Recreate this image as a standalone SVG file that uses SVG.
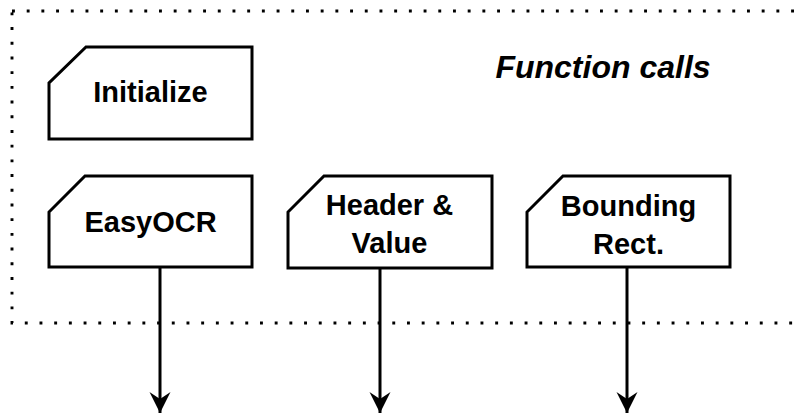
<svg xmlns="http://www.w3.org/2000/svg" width="795" height="414" viewBox="0 0 795 414">
  <defs>
    <style>
      .frame { fill: none; stroke: #000; stroke-width: 2.9; stroke-dasharray: 2.9 11.8; }
      .node { fill: #fff; stroke: #000; stroke-width: 3; stroke-linejoin: miter; }
      .label { font-family: "Liberation Sans", Arial, Helvetica, sans-serif; font-weight: bold; font-size: 29px; fill: #000; text-anchor: middle; }
      .title { font-family: "Liberation Sans", Arial, Helvetica, sans-serif; font-weight: bold; font-style: italic; font-size: 32px; fill: #000; text-anchor: middle; }
      .edge { fill: none; stroke: #000; stroke-width: 3; }
    </style>
    <marker id="arrow" markerUnits="userSpaceOnUse" viewBox="0 0 22 22" refX="21" refY="11" markerWidth="22" markerHeight="22" orient="auto">
      <path d="M21 11 L0 0.5 L7 11 L0 21.5 Z" fill="#000"/>
    </marker>
  </defs>

  <!-- dotted boundary of the function-call group -->
  <rect class="frame" x="12" y="11" width="800" height="312"/>
  <text class="title" x="603" y="78">Function calls</text>

  <!-- connectors -->
  <g id="connectors">
    <line class="edge" x1="160" y1="267" x2="160" y2="413" marker-end="url(#arrow)"/>
    <line class="edge" x1="380" y1="268" x2="380" y2="413" marker-end="url(#arrow)"/>
    <line class="edge" x1="627" y1="267" x2="627" y2="413" marker-end="url(#arrow)"/>
  </g>

  <g id="initialize">
    <path class="node" d="M86 47 H252 V139 H49 V83 Z"/>
    <text class="label" x="150.5" y="102">Initialize</text>
  </g>

  <g id="easyocr">
    <path class="node" d="M85 176 H252 V267 H49 V212 Z"/>
    <text class="label" x="150.5" y="232">EasyOCR</text>
  </g>

  <g id="header-value">
    <path class="node" d="M324 176 H492 V268 H288 V212 Z"/>
    <text class="label" x="389.5" y="215">Header &amp;</text>
    <text class="label" x="389.5" y="253">Value</text>
  </g>

  <g id="bounding-rect">
    <path class="node" d="M563 176 H730 V267 H527 V212 Z"/>
    <text class="label" x="628.5" y="216">Bounding</text>
    <text class="label" x="628.5" y="254">Rect.</text>
  </g>
</svg>
